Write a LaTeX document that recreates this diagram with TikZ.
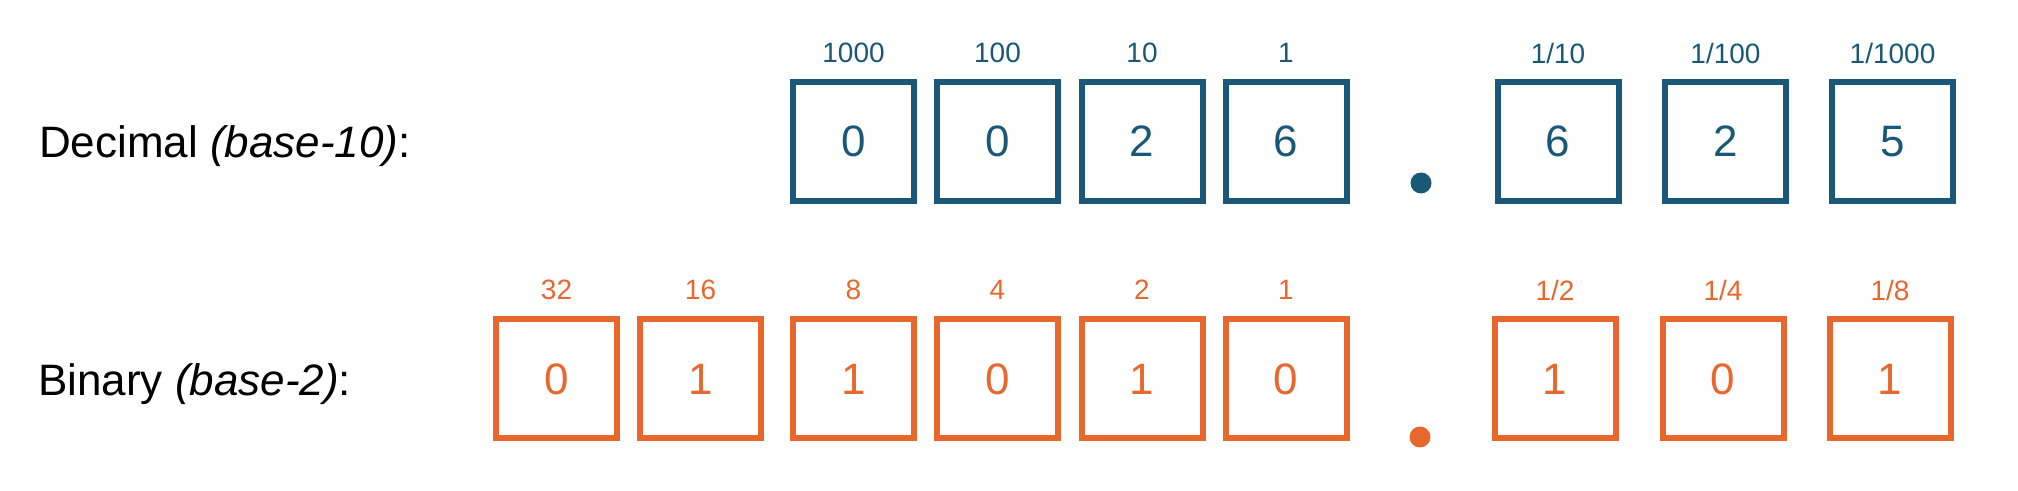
\documentclass[tikz,border=0pt]{standalone}
\usepackage{fontspec}
\setmainfont{Liberation Sans}
\usepackage{xcolor}
\definecolor{decblue}{HTML}{1A5878}
\definecolor{binorange}{HTML}{E8672C}

\begin{document}
\begin{tikzpicture}[x=0.5pt, y=-0.5pt,
  digitbox/.style={rectangle, draw, line width=3pt, minimum width=60.5pt, minimum height=59.5pt, inner sep=0pt, font=\fontsize{22}{26}\selectfont},
  weight/.style={inner sep=0pt, font=\fontsize{14}{17}\selectfont},
  radixpt/.style={circle, fill, inner sep=0pt, minimum size=10.5pt},
  rowname/.style={anchor=base west, font=\fontsize{22}{26}\selectfont}]
\useasboundingbox (0,0) rectangle (2018,491);
% Decimal (base-10)
\node[rowname] (decname) at (32,158) {Decimal \textit{(base-10)}:};
\node[digitbox, decblue] (dec3) at (853.5,141.5) {0};
\node[digitbox, decblue] (dec2) at (997.5,141.5) {0};
\node[digitbox, decblue] (dec1) at (1142,141.5) {2};
\node[digitbox, decblue] (dec0) at (1286,141.5) {6};
\node[radixpt, decblue] (decpt) at (1421,183) {};
\node[digitbox, decblue] (decm1) at (1558,141.5) {6};
\node[digitbox, decblue] (decm2) at (1725.5,141.5) {2};
\node[digitbox, decblue] (decm3) at (1892.5,141.5) {5};
\node[weight, decblue] (decw3) at (853.5,53) {1000};
\node[weight, decblue] (decw2) at (997.5,53) {100};
\node[weight, decblue] (decw1) at (1142,53) {10};
\node[weight, decblue] (decw0) at (1286,53) {1};
\node[weight, decblue] (decwm1) at (1558,53) {1/10};
\node[weight, decblue] (decwm2) at (1725.5,53) {1/100};
\node[weight, decblue] (decwm3) at (1892.5,53) {1/1000};
% Binary (base-2)
\node[rowname] (binname) at (31,396) {Binary \textit{(base-2)}:};
\node[digitbox, binorange] (bin5) at (556.5,379) {0};
\node[digitbox, binorange] (bin4) at (700.5,379) {1};
\node[digitbox, binorange] (bin3) at (853.5,379) {1};
\node[digitbox, binorange] (bin2) at (997.5,379) {0};
\node[digitbox, binorange] (bin1) at (1142,379) {1};
\node[digitbox, binorange] (bin0) at (1286,379) {0};
\node[radixpt, binorange] (binpt) at (1420,437) {};
\node[digitbox, binorange] (binm1) at (1555,379) {1};
\node[digitbox, binorange] (binm2) at (1723,379) {0};
\node[digitbox, binorange] (binm3) at (1890,379) {1};
\node[weight, binorange] (binw5) at (556.5,290) {32};
\node[weight, binorange] (binw4) at (700.5,290) {16};
\node[weight, binorange] (binw3) at (853.5,290) {8};
\node[weight, binorange] (binw2) at (997.5,290) {4};
\node[weight, binorange] (binw1) at (1142,290) {2};
\node[weight, binorange] (binw0) at (1286,290) {1};
\node[weight, binorange] (binwm1) at (1555,290) {1/2};
\node[weight, binorange] (binwm2) at (1723,290) {1/4};
\node[weight, binorange] (binwm3) at (1890,290) {1/8};
\end{tikzpicture}
\end{document}
